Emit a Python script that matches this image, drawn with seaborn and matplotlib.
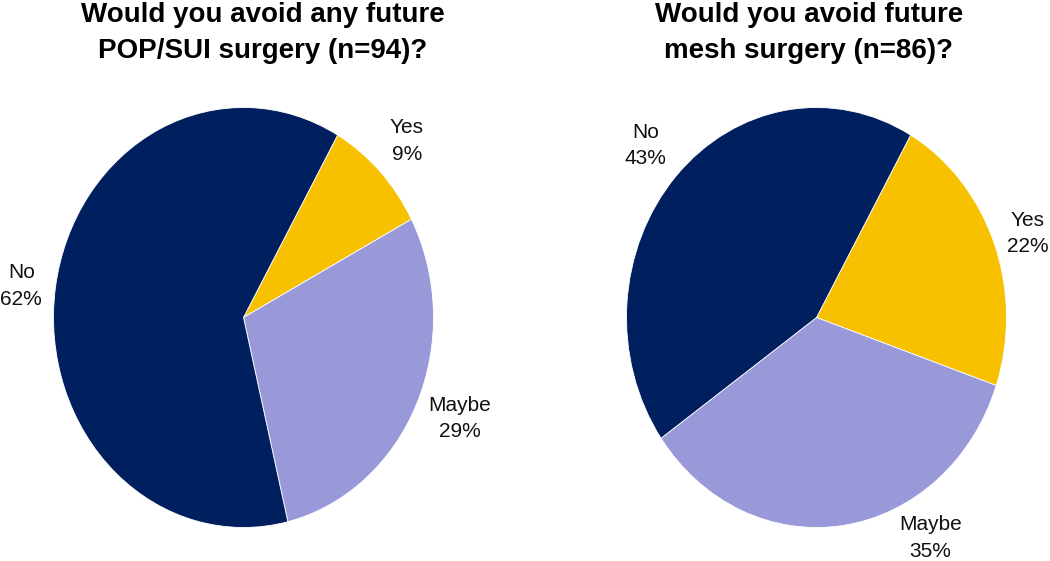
import matplotlib
matplotlib.use("Agg")
import matplotlib.pyplot as plt
import seaborn as sns

sns.set_theme(style="white")
plt.rcParams["font.family"] = ["Liberation Sans", "DejaVu Sans"]
plt.rcParams["text.color"] = "black"

# data
categories = ["Yes", "Maybe", "No"]
any_surgery = [9, 29, 62]
mesh_surgery = [22, 35, 43]
titles = ["Would you avoid any future\nPOP/SUI surgery (n=94)?",
          "Would you avoid future\nmesh surgery (n=86)?"]

colors = ["#F8C100", "#9999D9", "#001F5F"]

# label positions (axes data units, pie radius = 1)
label_pos_left = [(0.86, 0.84), (1.14, -0.48), (-1.17, 0.15)]
label_pos_right = [(1.11, 0.40), (0.60, -1.05), (-0.90, 0.82)]

fig = plt.figure(figsize=(10.5, 5.61), dpi=100)

axes_rects = [[53.5 / 1050, 33.5 / 561, 380 / 1050, 420 / 561],
              [626.5 / 1050, 33.5 / 561, 380 / 1050, 420 / 561]]
title_x = [263 / 1050, 809 / 1050]

for values, title, rect, tx, lpos in zip([any_surgery, mesh_surgery], titles,
                                         axes_rects, title_x,
                                         [label_pos_left, label_pos_right]):
    ax = fig.add_axes(rect)
    ax.pie(values, colors=colors, startangle=60.3, counterclock=False,
           wedgeprops=dict(linewidth=0.6, edgecolor="white"), frame=False)
    ax.set_aspect("auto")
    ax.set_xlim(-1, 1)
    ax.set_ylim(-1, 1)
    ax.axis("off")
    for cat, val, (x, y) in zip(categories, values, lpos):
        ax.text(x, y, f"{cat}\n{val}%", ha="center", va="center",
                fontsize=15, color="#111111", linespacing=1.5, clip_on=False)
    fig.text(tx, 1 - 33 / 561, title, ha="center", va="center",
             fontsize=20, fontweight="bold", linespacing=1.45)

fig.savefig("out.png", dpi=100)
